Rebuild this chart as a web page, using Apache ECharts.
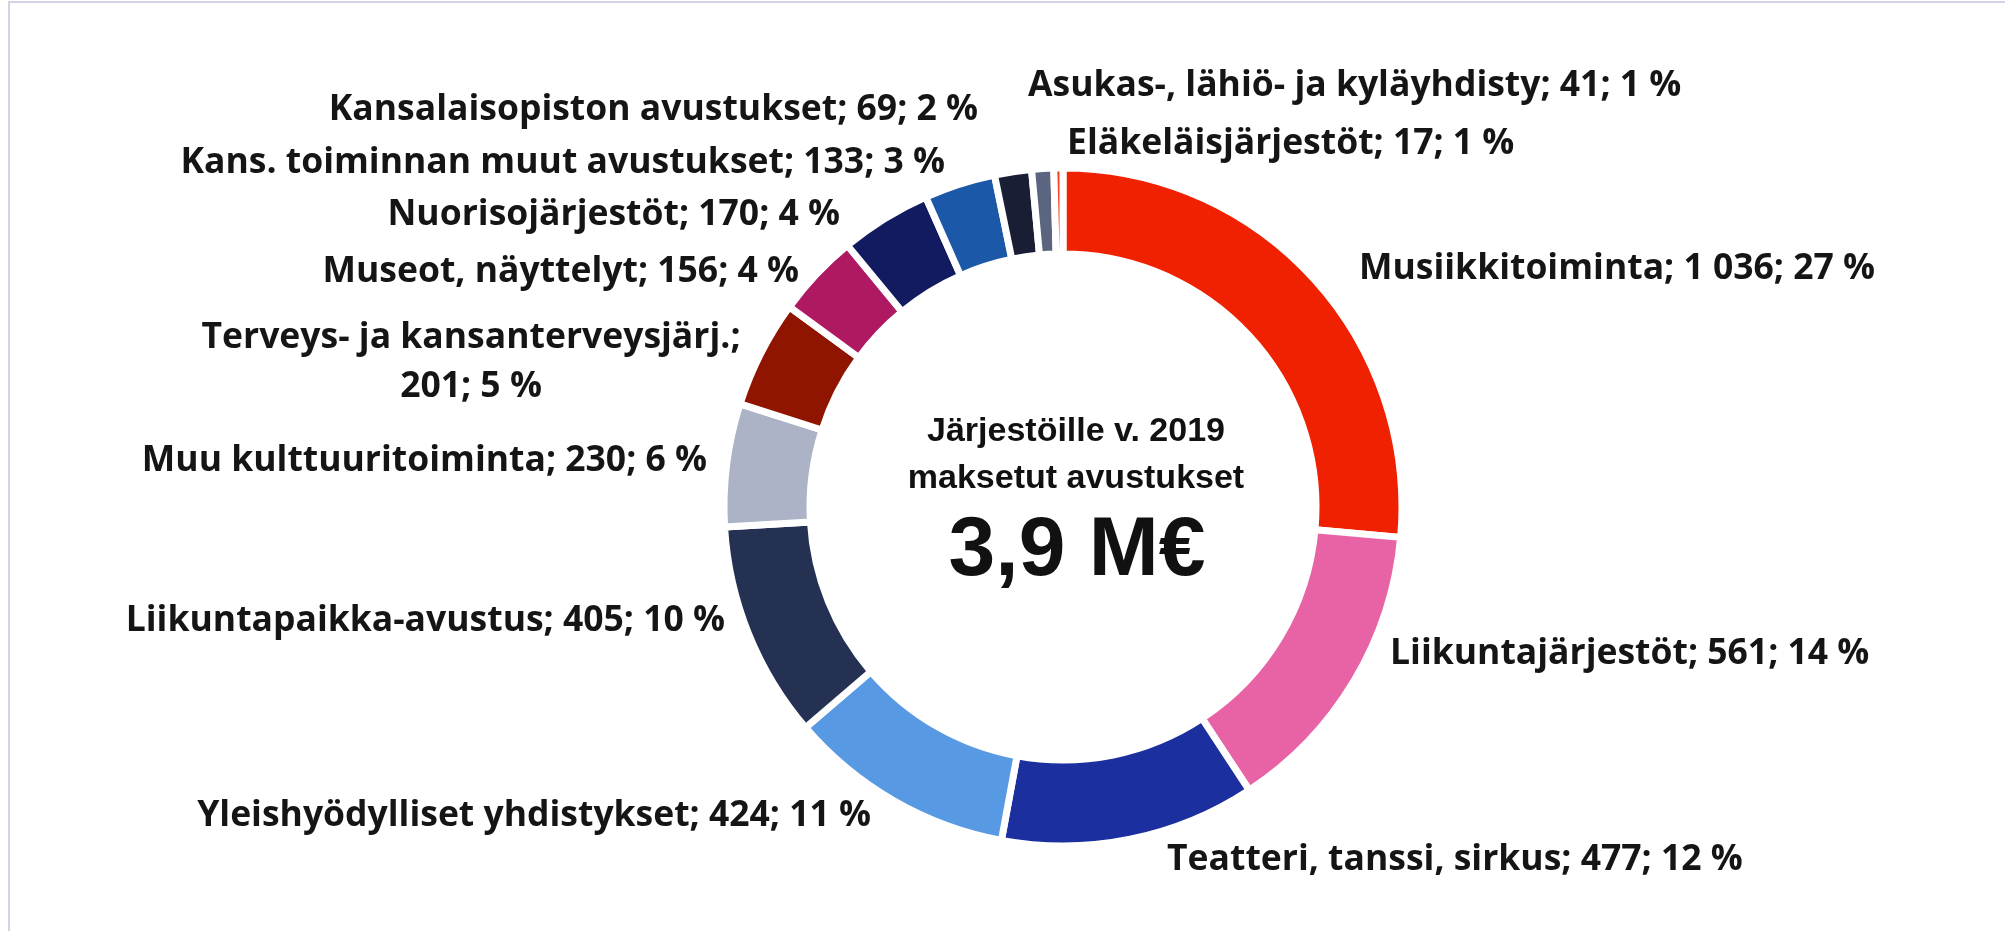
<!DOCTYPE html>
<html>
<head>
<meta charset="utf-8">
<title>Järjestöille v. 2019 maksetut avustukset</title>
<script src="https://cdn.jsdelivr.net/npm/echarts@6/dist/echarts.min.js"></script>
<style>
  html, body { margin: 0; padding: 0; background: #ffffff; }
  #chart { width: 2005px; height: 931px; }
</style>
</head>
<body>
<div id="chart"></div>
<script>
// Grant categories, clockwise from 12 o'clock
const categories = [
  'Musiikkitoiminta',
  'Liikuntajärjestöt',
  'Teatteri, tanssi, sirkus',
  'Yleishyödylliset yhdistykset',
  'Liikuntapaikka-avustus',
  'Muu kulttuuritoiminta',
  'Terveys- ja kansanterveysjärj.',
  'Museot, näyttelyt',
  'Nuorisojärjestöt',
  'Kans. toiminnan muut avustukset',
  'Kansalaisopiston avustukset',
  'Asukas-, lähiö- ja kyläyhdisty',
  'Eläkeläisjärjestöt'
];
// Paid grants, thousand euros
const amounts = [1036, 561, 477, 424, 405, 230, 201, 156, 170, 133, 69, 41, 17];
// Share of the total, as printed on the labels
const shares = [27, 14, 12, 11, 10, 6, 5, 4, 4, 3, 2, 1, 1];

const centerLines = ['Järjestöille v. 2019', 'maksetut avustukset'];
const centerTotal = '3,9 M€';

// Slice colours in category order
const palette = [
  '#F02100', '#E862A6', '#1B2F9E', '#5899E3', '#253153', '#ADB3C6', '#8F1500',
  '#AE1962', '#121B5F', '#1C58A8', '#191E35', '#5B6580', '#F44225'
];

// Where each label sits (anchor point and alignment)
const labelSpots = [
  { x: 1359, y: 269, align: 'left' },
  { x: 1390, y: 654, align: 'left' },
  { x: 1167, y: 860, align: 'left' },
  { x: 871,  y: 816, align: 'right' },
  { x: 725,  y: 621, align: 'right' },
  { x: 707,  y: 461, align: 'right' },
  { x: 471,  y: 362, align: 'center', wrap: true },
  { x: 799,  y: 272, align: 'right' },
  { x: 840,  y: 215, align: 'right' },
  { x: 945,  y: 163, align: 'right' },
  { x: 978,  y: 110, align: 'right' },
  { x: 1028, y: 86,  align: 'left' },
  { x: 1067, y: 144, align: 'left' }
];

function groupThousands(v) {
  return String(v).replace(/\B(?=(\d{3})+(?!\d))/g, ' ');
}

const chart = echarts.init(document.getElementById('chart'), null, { renderer: 'canvas' });

const option = {
  backgroundColor: '#ffffff',
  animation: false,
  graphic: [
    {
      type: 'rect',
      silent: true,
      shape: { x: 9, y: 2, width: 2200, height: 1200 },
      style: { fill: 'none', stroke: '#d2d3e4', lineWidth: 2 }
    },
    {
      type: 'text',
      silent: true,
      x: 1076, y: 455,
      style: {
        text: centerLines.join('\n'),
        font: 'bold 34px "Liberation Sans", Arial, sans-serif',
        fill: '#111111',
        align: 'center',
        verticalAlign: 'middle',
        lineHeight: 47
      }
    },
    {
      type: 'text',
      silent: true,
      x: 1077, y: 552,
      style: {
        text: centerTotal,
        font: 'bold 84px "Liberation Sans", Arial, sans-serif',
        fill: '#111111',
        align: 'center',
        verticalAlign: 'middle'
      }
    }
  ],
  series: [
    {
      type: 'pie',
      center: [1063, 507],
      radius: [253, 339],
      startAngle: 90,
      clockwise: true,
      avoidLabelOverlap: false,
      itemStyle: { borderColor: '#ffffff', borderWidth: 7 },
      label: {
        show: true,
        position: 'outside',
        fontFamily: '"Open Sans", "Noto Sans", sans-serif',
        fontWeight: 'bold',
        fontSize: 35.5,
        lineHeight: 49,
        color: '#151515',
        formatter: function (p) {
          const sep = labelSpots[p.dataIndex].wrap ? ';\n' : '; ';
          return p.name + sep + groupThousands(p.value) + '; ' + shares[p.dataIndex] + ' %';
        }
      },
      labelLine: { show: false },
      emphasis: { disabled: true },
      labelLayout: function (params) {
        const s = labelSpots[params.dataIndex];
        return { x: s.x, y: s.y, align: s.align, verticalAlign: 'middle' };
      },
      data: categories.map(function (name, i) {
        return { name: name, value: amounts[i], itemStyle: { color: palette[i] } };
      })
    }
  ]
};

chart.setOption(option);
</script>
</body>
</html>
